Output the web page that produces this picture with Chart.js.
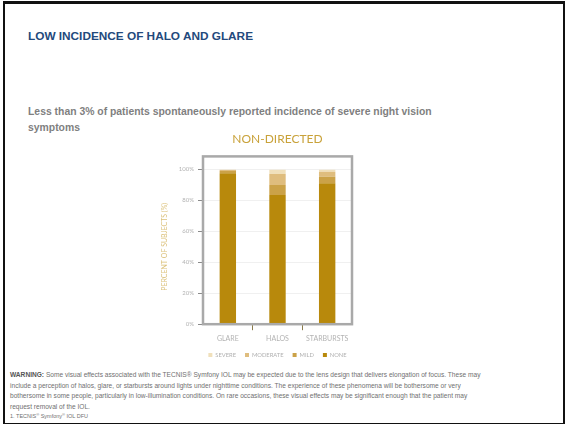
<!DOCTYPE html>
<html>
<head>
<meta charset="utf-8">
<script src="https://cdn.jsdelivr.net/npm/chart.js@4"></script>
<style>
  html, body { margin: 0; padding: 0; background: #fff; }
  body { width: 565px; height: 424px; position: relative; overflow: hidden; font-family: "Liberation Sans", Arial, sans-serif; }
  .frame { position: absolute; left: 3px; top: 1px; width: 558px; height: 419px; border: 2px solid #111; border-top-width: 3px; }
  .head { position: absolute; left: 28px; top: 29px; font-size: 11.8px; font-weight: bold; color: #23497c; white-space: nowrap; }
  .sub { position: absolute; left: 28px; top: 104px; font-size: 10.4px; font-weight: bold; color: #7f7f7f; line-height: 16px; white-space: nowrap; }
  .warn { position: absolute; left: 10px; top: 370px; font-size: 6.6px; color: #707070; line-height: 10.6px; white-space: nowrap; }
  .warn b { color: #555; }
  .foot { position: absolute; left: 10px; top: 412px; font-size: 5.5px; color: #707070; white-space: nowrap; }
  .foot sup { font-size: 4px; vertical-align: 2px; }
  #wrap { position: absolute; left: 150px; top: 128px; width: 255px; height: 240px; }
</style>
</head>
<body>
<div class="frame"></div>
<div class="head">LOW INCIDENCE OF HALO AND GLARE</div>
<div class="sub">Less than 3% of patients spontaneously reported incidence of severe night vision<br>symptoms</div>
<div class="warn"><b>WARNING:</b> Some visual effects associated with the TECNIS® Symfony IOL may be expected due to the lens design that delivers elongation of focus. These may<br>include a perception of halos, glare, or starbursts around lights under nighttime conditions. The experience of these phenomena will be bothersome or very<br>bothersome in some people, particularly in low-illumination conditions. On rare occasions, these visual effects may be significant enough that the patient may<br>request removal of the IOL.</div>
<div class="foot">1. TECNIS<sup>®</sup> Symfony<sup>®</sup> IOL DFU</div>
<div id="wrap"><canvas id="c" width="255" height="240"></canvas></div>
<script>
// categories and stacked percentages
const categories = ['GLARE', 'HALOS', 'STARBURSTS'];
const none_vals = [97.5, 83.5, 91];
const mild_vals = [1.5, 6.5, 4.2];
const moderate_vals = [0.7, 7, 3.3];
const severe_vals = [0.3, 3, 1.5];

const FONT = 'Lato, "Open Sans", sans-serif';

// grey box round the plot, a bit above the 100% line
const boxPlugin = {
    id: 'box',
    afterDraw(chart) {
        const a = chart.chartArea;
        const ctx = chart.ctx;
        ctx.save();
        ctx.strokeStyle = '#a9a9a9';
        ctx.lineWidth = 2.5;
        ctx.strokeRect(a.left, a.top - 13, a.right - a.left, a.bottom - a.top + 13);
        ctx.restore();
    }
};

function ds(label, data, color) {
    return {
        label: label,
        data: data,
        backgroundColor: color,
        borderWidth: 0,
        barPercentage: 0.66,
        categoryPercentage: 0.5
    };
}

new Chart(document.getElementById('c'), {
    type: 'bar',
    data: {
        labels: categories,
        datasets: [
            ds('NONE', none_vals, '#b8890c'),
            ds('MILD', mild_vals, '#cba248'),
            ds('MODERATE', moderate_vals, '#dfbd7e'),
            ds('SEVERE', severe_vals, '#f0e0bb')
        ]
    },
    plugins: [boxPlugin],
    options: {
        responsive: false,
        animation: false,
        layout: { padding: 0 },
        plugins: {
            title: {
                display: true,
                text: 'NON-DIRECTED',
                color: '#c9a23a',
                font: { family: FONT, size: 12, weight: 'normal' },
                padding: { top: 4, bottom: 23 }
            },
            legend: {
                position: 'bottom',
                reverse: true,
                labels: {
                    color: '#b0b0b0',
                    font: { family: FONT, size: 5.8 },
                    boxWidth: 4,
                    boxHeight: 4,
                    padding: 9
                }
            },
            tooltip: { enabled: false }
        },
        scales: {
            x: {
                stacked: true,
                border: { display: false },
                grid: {
                    drawOnChartArea: false,
                    tickLength: 6,
                    tickColor: ['rgba(0,0,0,0)', '#8c7c4c', '#8c7c4c', 'rgba(0,0,0,0)']
                },
                ticks: { color: '#b3b3b3', font: { family: FONT, size: 7 }, padding: 4 },
                afterFit: s => { s.height = 19; }
            },
            y: {
                stacked: true,
                min: 0,
                max: 100,
                border: { display: false },
                grid: { color: '#f0f0f0', tickLength: 5, tickColor: '#8a8a8a' },
                ticks: {
                    stepSize: 20,
                    color: '#b3b3b3',
                    font: { family: FONT, size: 6 },
                    padding: 4,
                    callback: v => v + '%'
                },
                title: {
                    display: true,
                    text: 'PERCENT OF SUBJECTS (%)',
                    color: '#dcc27c',
                    font: { family: FONT, size: 7 },
                    padding: { top: 11, bottom: 0 }
                },
                afterFit: s => { s.width = 53; }
            },
            // empty right axis, same width as the left one, so title and legend centre on the plot
            yRight: {
                position: 'right',
                border: { display: false },
                grid: { display: false, drawTicks: false },
                ticks: { display: false },
                afterFit: s => { s.width = 53; }
            }
        }
    }
});
</script>
</body>
</html>
